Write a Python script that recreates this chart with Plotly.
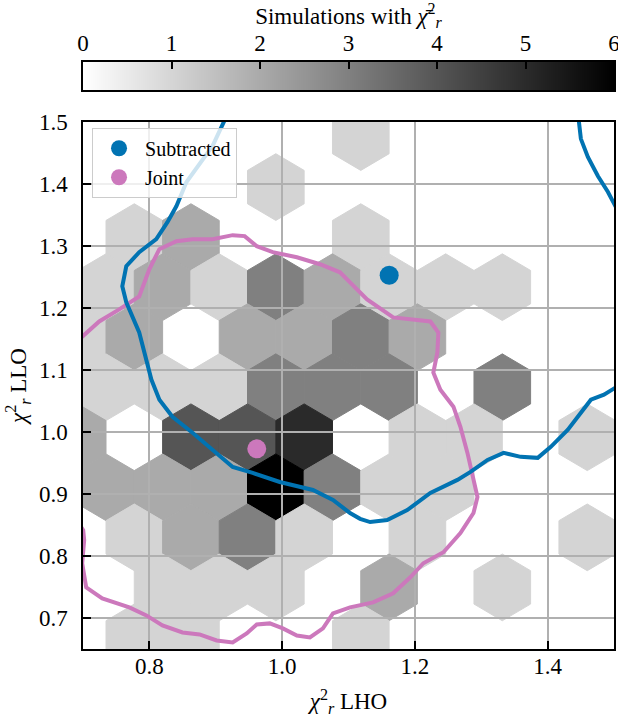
import plotly.graph_objects as go

# ---------------- data ----------------
# hexbin cells: centre x, centre y, count
hex_x = [1.1185,
         0.9905,
         0.7773, 0.8626, 1.1185,
         0.7346, 0.8199, 0.9052, 0.9905, 1.0758, 1.1611, 1.2464, 1.3317,
         0.6920, 0.7773, 0.9479, 1.0332, 1.1185, 1.2038,
         0.7346, 0.8199, 0.9052, 0.9905, 1.0758, 1.1611, 1.3317,
         0.6920, 0.8626, 0.9479, 1.0332, 1.2038, 1.2891, 1.4597,
         0.7346, 0.8199, 0.9052, 0.9905, 1.0758, 1.1611, 1.2464,
         0.7773, 0.8626, 0.9479, 1.0332, 1.2038, 1.4597,
         0.8199, 0.9052, 0.9905, 1.1611, 1.3317,
         0.7773, 0.8626, 1.1185]
hex_y = [1.4757,
         1.3950,
         1.3143, 1.3143, 1.3143,
         1.2336, 1.2336, 1.2336, 1.2336, 1.2336, 1.2336, 1.2336, 1.2336,
         1.1529, 1.1529, 1.1529, 1.1529, 1.1529, 1.1529,
         1.0722, 1.0722, 1.0722, 1.0722, 1.0722, 1.0722, 1.0722,
         0.9915, 0.9915, 0.9915, 0.9915, 0.9915, 0.9915, 0.9915,
         0.9108, 0.9108, 0.9108, 0.9108, 0.9108, 0.9108, 0.9108,
         0.8301, 0.8301, 0.8301, 0.8301, 0.8301, 0.8301,
         0.7494, 0.7494, 0.7494, 0.7494, 0.7494,
         0.6687, 0.6687, 0.6687]
hex_count = [1,
             1,
             1, 2, 1,
             1, 2, 1, 3, 2, 1, 1, 1,
             1, 2, 2, 2, 3, 2,
             1, 1, 1, 3, 3, 3, 3,
             2, 4, 4, 5, 1, 1, 1,
             2, 2, 2, 6, 3, 1, 1,
             1, 2, 3, 1, 1, 1,
             1, 1, 1, 2, 1,
             1, 1, 1]

# contour lines
blue_main_x = [0.913, 0.8952, 0.8559, 0.8408, 0.8272, 0.8104, 0.7847, 0.7652, 0.7592, 0.7652,
               0.7847, 0.7955, 0.8030, 0.8151, 0.8348, 0.8650, 0.8952, 0.9255, 0.9557, 0.9965,
               1.0464, 1.0766, 1.1023, 1.1175, 1.1326, 1.1583, 1.1885, 1.2233, 1.2641, 1.2838,
               1.3095, 1.3337, 1.3594, 1.3851, 1.4048, 1.4305, 1.4501, 1.4652, 1.4849, 1.5045]
blue_main_y = [1.502, 1.4615, 1.4032, 1.3644, 1.3385, 1.3110, 1.2900, 1.2673, 1.2350, 1.2091,
               1.1605, 1.1168, 1.0845, 1.0521, 1.0246, 0.9987, 0.9712, 0.9437, 0.9340, 0.9194,
               0.9065, 0.8903, 0.8693, 0.8600, 0.8547, 0.8579, 0.8741, 0.9016, 0.9227, 0.9356,
               0.9550, 0.9663, 0.9599, 0.9583, 0.9761, 1.0036, 1.0311, 1.0521, 1.0602, 1.0731]
blue_corner_x = [1.4470, 1.4501, 1.4606, 1.4757, 1.4909, 1.5000, 1.5045]
blue_corner_y = [1.5019, 1.4728, 1.4437, 1.4129, 1.3871, 1.3676, 1.3595]

pink_x = [0.6950, 0.7244, 0.7546, 0.7847, 0.7999, 0.8150, 0.8408, 0.8650, 0.8952, 0.9255,
          0.9436, 0.9618, 0.9859, 1.0222, 1.0570, 1.0872, 1.1023, 1.1280, 1.1673, 1.2233,
          1.2354, 1.2339, 1.2278, 1.2384, 1.2581, 1.2686, 1.2792, 1.2883, 1.2943, 1.2883,
          1.2686, 1.2430, 1.2127, 1.1931, 1.1673, 1.1371, 1.1023, 1.0766, 1.0615, 1.0419,
          1.0222, 1.0011, 0.9814, 0.9618, 0.9466, 0.9255, 0.9013, 0.8756, 0.8499, 0.8197,
          0.7955, 0.7698, 0.7290, 0.7048, 0.6988, 0.7018, 0.7003, 0.6950]
pink_y = [1.1500, 1.1783, 1.1977, 1.2188, 1.2625, 1.2948, 1.3078, 1.3110, 1.3110, 1.3175,
          1.3159, 1.2997, 1.2900, 1.2819, 1.2706, 1.2576, 1.2414, 1.2139, 1.1848, 1.1783,
          1.1605, 1.1282, 1.0958, 1.0683, 1.0408, 1.0084, 0.9663, 0.9227, 0.8951, 0.8693,
          0.8369, 0.8061, 0.7883, 0.7657, 0.7398, 0.7252, 0.7172, 0.7074, 0.6832, 0.6686,
          0.6718, 0.6832, 0.6913, 0.6896, 0.6751, 0.6605, 0.6638, 0.6735, 0.6767, 0.6880,
          0.7042, 0.7172, 0.7317, 0.7495, 0.7883, 0.8256, 0.8417, 0.8500]

# best-fit points
point_names = ["Subtracted", "Joint"]
point_x = [1.1613, 0.9618]
point_y = [1.2527, 0.9728]

# colour bar ticks
cbar_ticks = [0, 1, 2, 3, 4, 5, 6]
x_ticks = [0.8, 1.0, 1.2, 1.4]
y_ticks = [0.7, 0.8, 0.9, 1.0, 1.1, 1.2, 1.3, 1.4, 1.5]

# ---------------- style ----------------
BLUE = "#0173b2"
PINK = "#cc78bc"
GRID = "#b0b0b0"
FONT = "Liberation Serif"
HALF_W = 0.04265     # half hex width (data units)
ROW = 0.0807         # vertical spacing between hex rows
CMAX = 6

fig = go.Figure()

# hexbin cells as shapes below the grid
shapes = []
for cx, cy, c in zip(hex_x, hex_y, hex_count):
    g = int(round(255 * (1 - c / CMAX)))
    col = f"rgb({g},{g},{g})"
    top = 2 * ROW / 3
    side = ROW / 3
    pts = [(cx + HALF_W, cy - side), (cx + HALF_W, cy + side), (cx, cy + top),
           (cx - HALF_W, cy + side), (cx - HALF_W, cy - side), (cx, cy - top)]
    path = "M " + " L ".join(f"{px:.5f},{py:.5f}" for px, py in pts) + " Z"
    shapes.append(dict(type="path", path=path, xref="x", yref="y", layer="below",
                       fillcolor=col, line=dict(color=col, width=1)))

# contours
fig.add_trace(go.Scatter(x=pink_x, y=pink_y, mode="lines", line=dict(color=PINK, width=4),
                         showlegend=False, hoverinfo="skip"))
fig.add_trace(go.Scatter(x=blue_main_x, y=blue_main_y, mode="lines", line=dict(color=BLUE, width=4),
                         showlegend=False, hoverinfo="skip"))
fig.add_trace(go.Scatter(x=blue_corner_x, y=blue_corner_y, mode="lines", line=dict(color=BLUE, width=4),
                         showlegend=False, hoverinfo="skip"))

# points
for name, px, py, col in zip(point_names, point_x, point_y, [BLUE, PINK]):
    fig.add_trace(go.Scatter(x=[px], y=[py], mode="markers", name=name,
                             marker=dict(color=col, size=19, line=dict(width=0))))

# colour bar as a heatmap strip on its own axes
fig.add_trace(go.Heatmap(x=cbar_ticks, y=[0, 1], z=[cbar_ticks, cbar_ticks],
                         xaxis="x2", yaxis="y2", zmin=0, zmax=CMAX, zsmooth="best",
                         colorscale=[[0, "rgb(255,255,255)"], [1, "rgb(0,0,0)"]],
                         showscale=False, hoverinfo="skip"))

tickfont = dict(family=FONT, size=23, color="black")
titlefont = dict(family=FONT, size=23, color="black")

fig.update_layout(
    width=618, height=721,
    margin=dict(l=83, r=4, t=62, b=72),
    paper_bgcolor="white", plot_bgcolor="white",
    shapes=shapes,
    font=dict(family=FONT, color="black"),
    xaxis=dict(domain=[0, 1], anchor="y", range=[0.7, 1.5], tickvals=x_ticks, tickformat=".1f",
               ticks="inside", ticklen=8, tickwidth=2, tickcolor="black",
               showline=True, mirror=True, linecolor="black", linewidth=1.5,
               showgrid=True, gridcolor=GRID, gridwidth=1.6, zeroline=False,
               tickfont=tickfont, ticklabelstandoff=-4, automargin=False,
               title=dict(text="<i>χ</i><sup>2</sup><sub><i>r</i></sub> LHO",
                          font=titlefont, standoff=15)),
    yaxis=dict(domain=[0, 0.8978], anchor="x", range=[0.65, 1.5], tickvals=y_ticks, tickformat=".1f",
               ticks="inside", ticklen=8, tickwidth=2, tickcolor="black",
               showline=True, mirror=True, linecolor="black", linewidth=1.5,
               showgrid=True, gridcolor=GRID, gridwidth=1.6, zeroline=False,
               tickfont=tickfont, ticklabelstandoff=9, automargin=False,
               title=dict(text="<i>χ</i><sup>2</sup><sub><i>r</i></sub> LLO",
                          font=titlefont, standoff=6)),
    xaxis2=dict(domain=[0, 1], anchor="y2", range=[0, CMAX], side="top", tickvals=cbar_ticks,
                ticks="inside", ticklen=7, tickwidth=1.5, tickcolor="black",
                showline=True, mirror=True, linecolor="black", linewidth=1.5,
                showgrid=False, zeroline=False, tickfont=tickfont, ticklabelstandoff=0,
                ticklabeloverflow="allow", automargin=False,
                title=dict(text="Simulations with <i>χ̄</i><sup>2</sup><sub><i>r</i></sub>",
                           font=titlefont, standoff=12)),
    yaxis2=dict(domain=[0.9523, 1.0], anchor="x2", range=[-0.5, 1.5], showticklabels=False,
                ticks="", showline=True, mirror=True, linecolor="black", linewidth=1.5,
                showgrid=False, zeroline=False, automargin=False),
    legend=dict(x=0.017, y=0.888, xanchor="left", yanchor="top",
                bgcolor="rgba(255,255,255,0.8)", bordercolor="#cccccc", borderwidth=1,
                font=dict(family=FONT, size=20), itemsizing="trace", itemwidth=42,
                tracegroupgap=0),
    showlegend=True,
)

fig.write_html("out.html", config={"displayModeBar": False},
               post_script="document.body.style.margin='0';document.body.style.padding='0';")
